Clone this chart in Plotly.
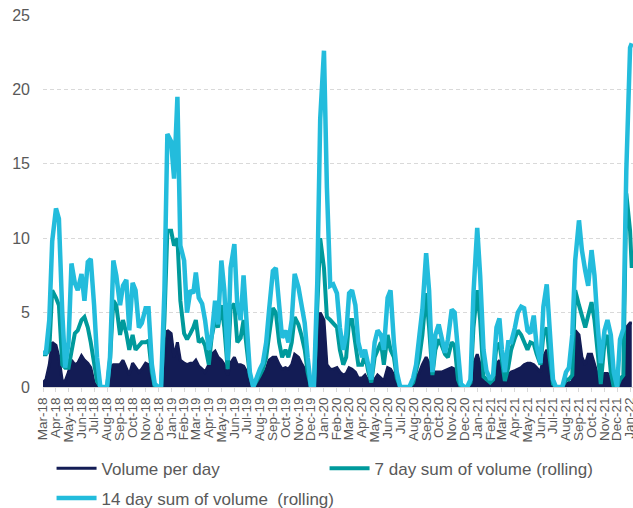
import plotly.graph_objects as go
from datetime import date

# Sampling grid: roughly weekly points (days 1, 8, 16, 23 of each month), Mar-18 .. Dec-21, then early Jan-22
sample_days = [1, 8, 16, 23]
dates = [date(2018 + (2 + i) // 12, (2 + i) % 12 + 1, d).isoformat()
         for i in range(46) for d in sample_days] + ["2022-01-01", "2022-01-05"]

series_names = ["Volume per day", "7 day sum of volume (rolling)", "14 day sum of volume  (rolling)"]

volume_per_day = [
    0.3, 0.5, 1.5, 3.0,   2.8, 2.0, 0.4, 0.4,   1.0, 1.8, 1.5, 1.6,   2.1, 1.8, 1.6, 1.3,
    0.3, 0.0, 0.0, 0.0,   0.0, 1.3, 1.5, 1.5,   1.5, 1.8, 1.3, 0.8,   1.6, 1.3, 1.0, 1.2,
    1.6, 1.5, 0.3, 0.0,   0.0, 0.0, 2.0, 3.8,   3.6, 2.0, 3.0, 1.8,   1.6, 1.5, 1.6, 1.6,
    1.8, 1.4, 1.2, 1.0,   1.5, 2.2, 2.4, 2.0,   1.8, 1.5, 0.8, 1.6,   2.0, 1.5, 1.5, 1.4,
    1.0, 0.3, 0.0, 0.2,   0.5, 0.8, 1.2, 1.8,   2.0, 2.0, 1.5, 1.2,   1.3, 1.2, 1.5, 2.2,
    2.0, 1.6, 1.2, 0.5,   0.0, 0.0, 2.5, 5.0,   4.5, 1.5, 1.2, 1.2,   1.3, 1.0, 0.8, 0.9,
    1.3, 1.2, 1.0, 0.6,   0.6, 0.8, 0.4, 0.1,   0.5, 0.8, 0.6, 0.4,   1.3, 1.2, 0.8, 0.2,
    0.0, 0.0, 0.0, 0.0,   0.1, 0.5, 1.0, 1.5,   2.0, 1.6, 0.8, 1.0,   1.0, 1.0, 1.1, 1.2,
    1.3, 1.2, 0.3, 0.0,   0.0, 0.0, 0.1, 1.5,   2.2, 1.5, 0.4, 0.3,   0.1, 0.3, 1.5, 1.8,
    0.8, 0.2, 0.8, 1.0,   1.1, 1.2, 1.3, 1.5,   1.6, 1.6, 1.5, 1.3,   1.0, 2.0, 2.5, 0.8,
    0.0, 0.0, 0.0, 0.0,   0.2, 0.3, 0.3, 3.8,   3.5, 2.0, 1.5, 2.2,   2.2, 1.5, 0.8, 0.1,
    0.9, 0.9, 0.5, 0.0,   0.0, 0.3, 0.5, 4.0,
    4.3, 4.3,
]

sum_7_day = [
    2.2, 2.2, 2.5, 6.5,   6.0, 5.5, 1.5, 1.3,   1.3, 2.5, 3.6, 3.8,   4.5, 4.7, 4.0, 3.0,
    1.6, 0.4, 0.0, 0.0,   0.0, 1.8, 5.8, 5.5,   3.5, 4.5, 3.6, 2.5,   3.5, 2.5, 2.8, 3.0,
    3.0, 3.1, 1.0, 0.0,   0.0, 0.0, 4.5, 10.5,  10.5, 9.5, 10.0, 5.8, 3.6, 3.2, 3.6, 4.0,
    4.5, 3.0, 3.2, 2.8,   1.5, 3.4, 4.5, 4.0,   5.5, 4.0, 1.2, 5.3,   5.6, 3.0, 3.3, 4.5,
    2.5, 0.8, 0.0, 0.3,   0.8, 1.2, 2.0, 3.5,   5.3, 5.0, 3.0, 2.0,   2.5, 2.0, 3.0, 4.7,
    4.2, 3.5, 2.5, 1.0,   0.0, 0.0, 5.0, 10.0,  8.0, 4.7, 4.5, 4.3,   4.0, 2.5, 1.5, 2.0,
    4.5, 4.5, 3.0, 1.5,   1.5, 2.2, 1.0, 0.3,   2.0, 2.5, 3.0, 1.5,   3.5, 2.5, 2.0, 0.6,
    0.0, 0.0, 0.0, 0.0,   0.3, 1.0, 2.0, 3.5,   6.3, 4.0, 0.8, 2.5,   3.2, 2.8, 2.2, 2.0,
    3.0, 2.8, 0.5, 0.0,   0.0, 0.0, 0.3, 4.0,   6.5, 4.5, 0.7, 0.5,   0.3, 0.5, 2.8, 2.9,
    1.5, 0.4, 1.3, 2.5,   3.3, 3.8, 3.5, 3.0,   2.5, 3.0, 2.9, 2.2,   1.5, 3.5, 4.0, 2.0,
    0.2, 0.0, 0.0, 0.0,   0.5, 0.5, 0.8, 6.5,   5.5, 4.8, 4.0, 4.8,   5.7, 4.5, 2.0, 0.2,
    3.0, 3.5, 1.0, 0.0,   0.0, 0.5, 0.8, 13.0,
    10.5, 8.0,
]

sum_14_day = [
    2.3, 2.3, 4.5, 9.8,   12.0, 11.3, 5.0, 1.3, 3.0, 8.3, 7.0, 6.5,   7.6, 5.8, 8.4, 8.6,
    5.5, 2.0, 0.0, 0.0,   0.0, 2.0, 8.5, 7.5,   5.5, 6.8, 7.2, 3.8,   7.0, 6.5, 4.0, 4.3,
    5.3, 5.3, 1.5, 0.2,   0.0, 0.0, 6.5, 17.0,  16.5, 14.0, 19.5, 9.5, 8.5, 5.0, 6.5, 6.3,
    7.7, 6.0, 5.6, 4.5,   2.5, 3.5, 5.8, 4.2,   8.5, 6.5, 1.8, 8.0,   9.6, 5.5, 4.5, 7.5,
    3.8, 1.0, 0.0, 0.6,   1.2, 1.6, 3.0, 5.2,   7.8, 8.0, 5.7, 3.3,   3.8, 3.0, 4.5, 7.6,
    6.7, 5.5, 4.3, 2.0,   0.0, 0.0, 7.0, 18.0,  22.6, 13.4, 6.8, 6.9, 6.3, 4.0, 2.5, 3.5,
    6.3, 6.5, 5.5, 3.0,   2.0, 2.5, 1.3, 0.5,   3.0, 3.8, 3.5, 2.5,   6.0, 6.5, 3.0, 1.0,
    0.0, 0.0, 0.0, 0.0,   0.6, 1.5, 3.5, 5.2,   9.0, 6.5, 1.0, 3.5,   4.2, 3.2, 2.3, 3.2,
    5.2, 5.0, 2.0, 0.2,   0.0, 0.0, 0.5, 6.3,   10.7, 7.5, 2.5, 1.1,  0.5, 0.8, 4.0, 4.6,
    2.5, 1.0, 3.0, 3.0,   4.0, 5.0, 5.4, 5.3,   3.8, 3.6, 4.8, 2.7,   1.6, 5.4, 6.9, 3.4,
    0.5, 0.0, 0.0, 0.0,   1.0, 1.3, 3.5, 8.5,   11.2, 9.2, 7.8, 6.8,  9.2, 7.5, 4.0, 1.6,
    3.8, 4.5, 3.5, 1.0,   0.0, 3.2, 3.9, 14.5,
    22.8, 23.1,
]

NAVY = "#131C55"
TEAL = "#009A9C"
LIGHT = "#23BCDC"
GREY_TXT = "#595959"
GRID = "#D9D9D9"
FONT = "Liberation Sans, Arial, sans-serif"

fig = go.Figure()
# daily volume drawn as a dark filled band (dense daily spikes)
fig.add_trace(go.Scatter(x=dates, y=volume_per_day, mode="lines", fill="tozeroy",
                         fillcolor=NAVY, line=dict(color=NAVY, width=1.5),
                         showlegend=False, hoverinfo="skip"))
fig.add_trace(go.Scatter(x=dates, y=volume_per_day, mode="lines", name=series_names[0],
                         line=dict(color=NAVY, width=3), legend="legend"))
fig.add_trace(go.Scatter(x=dates, y=sum_7_day, mode="lines", name=series_names[1],
                         line=dict(color=TEAL, width=4), legend="legend"))
fig.add_trace(go.Scatter(x=dates, y=sum_14_day, mode="lines", name=series_names[2],
                         line=dict(color=LIGHT, width=4.5), legend="legend2"))

legend_common = dict(orientation="h", xanchor="left", yanchor="top",
                     xref="paper", yref="container", itemwidth=40,
                     font=dict(size=17, color=GREY_TXT, family=FONT),
                     bgcolor="rgba(0,0,0,0)", traceorder="normal")

fig.update_layout(
    width=633, height=508,
    margin=dict(l=43, r=0, t=15, b=121, autoexpand=False),
    paper_bgcolor="white", plot_bgcolor="white",
    font=dict(family=FONT, color=GREY_TXT),
    showlegend=True,
    legend=dict(x=0.0145, y=0.113, entrywidth=218, entrywidthmode="pixels", **legend_common),
    legend2=dict(x=0.0145, y=0.054, **legend_common),
    xaxis=dict(type="date", range=["2018-03-01", "2022-01-08"],
               tickmode="linear", tick0="2018-03-01", dtick="M1", tickformat="%b-%y",
               tickangle=-90, tickfont=dict(size=13.5, color=GREY_TXT),
               ticklabeloverflow="allow",
               ticks="outside", ticklen=4, tickcolor=GRID,
               showgrid=False, showline=True, linecolor=GRID, linewidth=1, zeroline=False),
    yaxis=dict(range=[0, 25], tickmode="linear", tick0=0, dtick=5,
               tickfont=dict(size=16, color=GREY_TXT),
               showgrid=True, gridcolor=GRID, griddash="4px,3px", gridwidth=1,
               zeroline=False, showline=False, ticks="", ticklabelstandoff=12),
)

fig.write_html("out.html", config={"displayModeBar": False},
               post_script="document.body.style.margin='0';")
